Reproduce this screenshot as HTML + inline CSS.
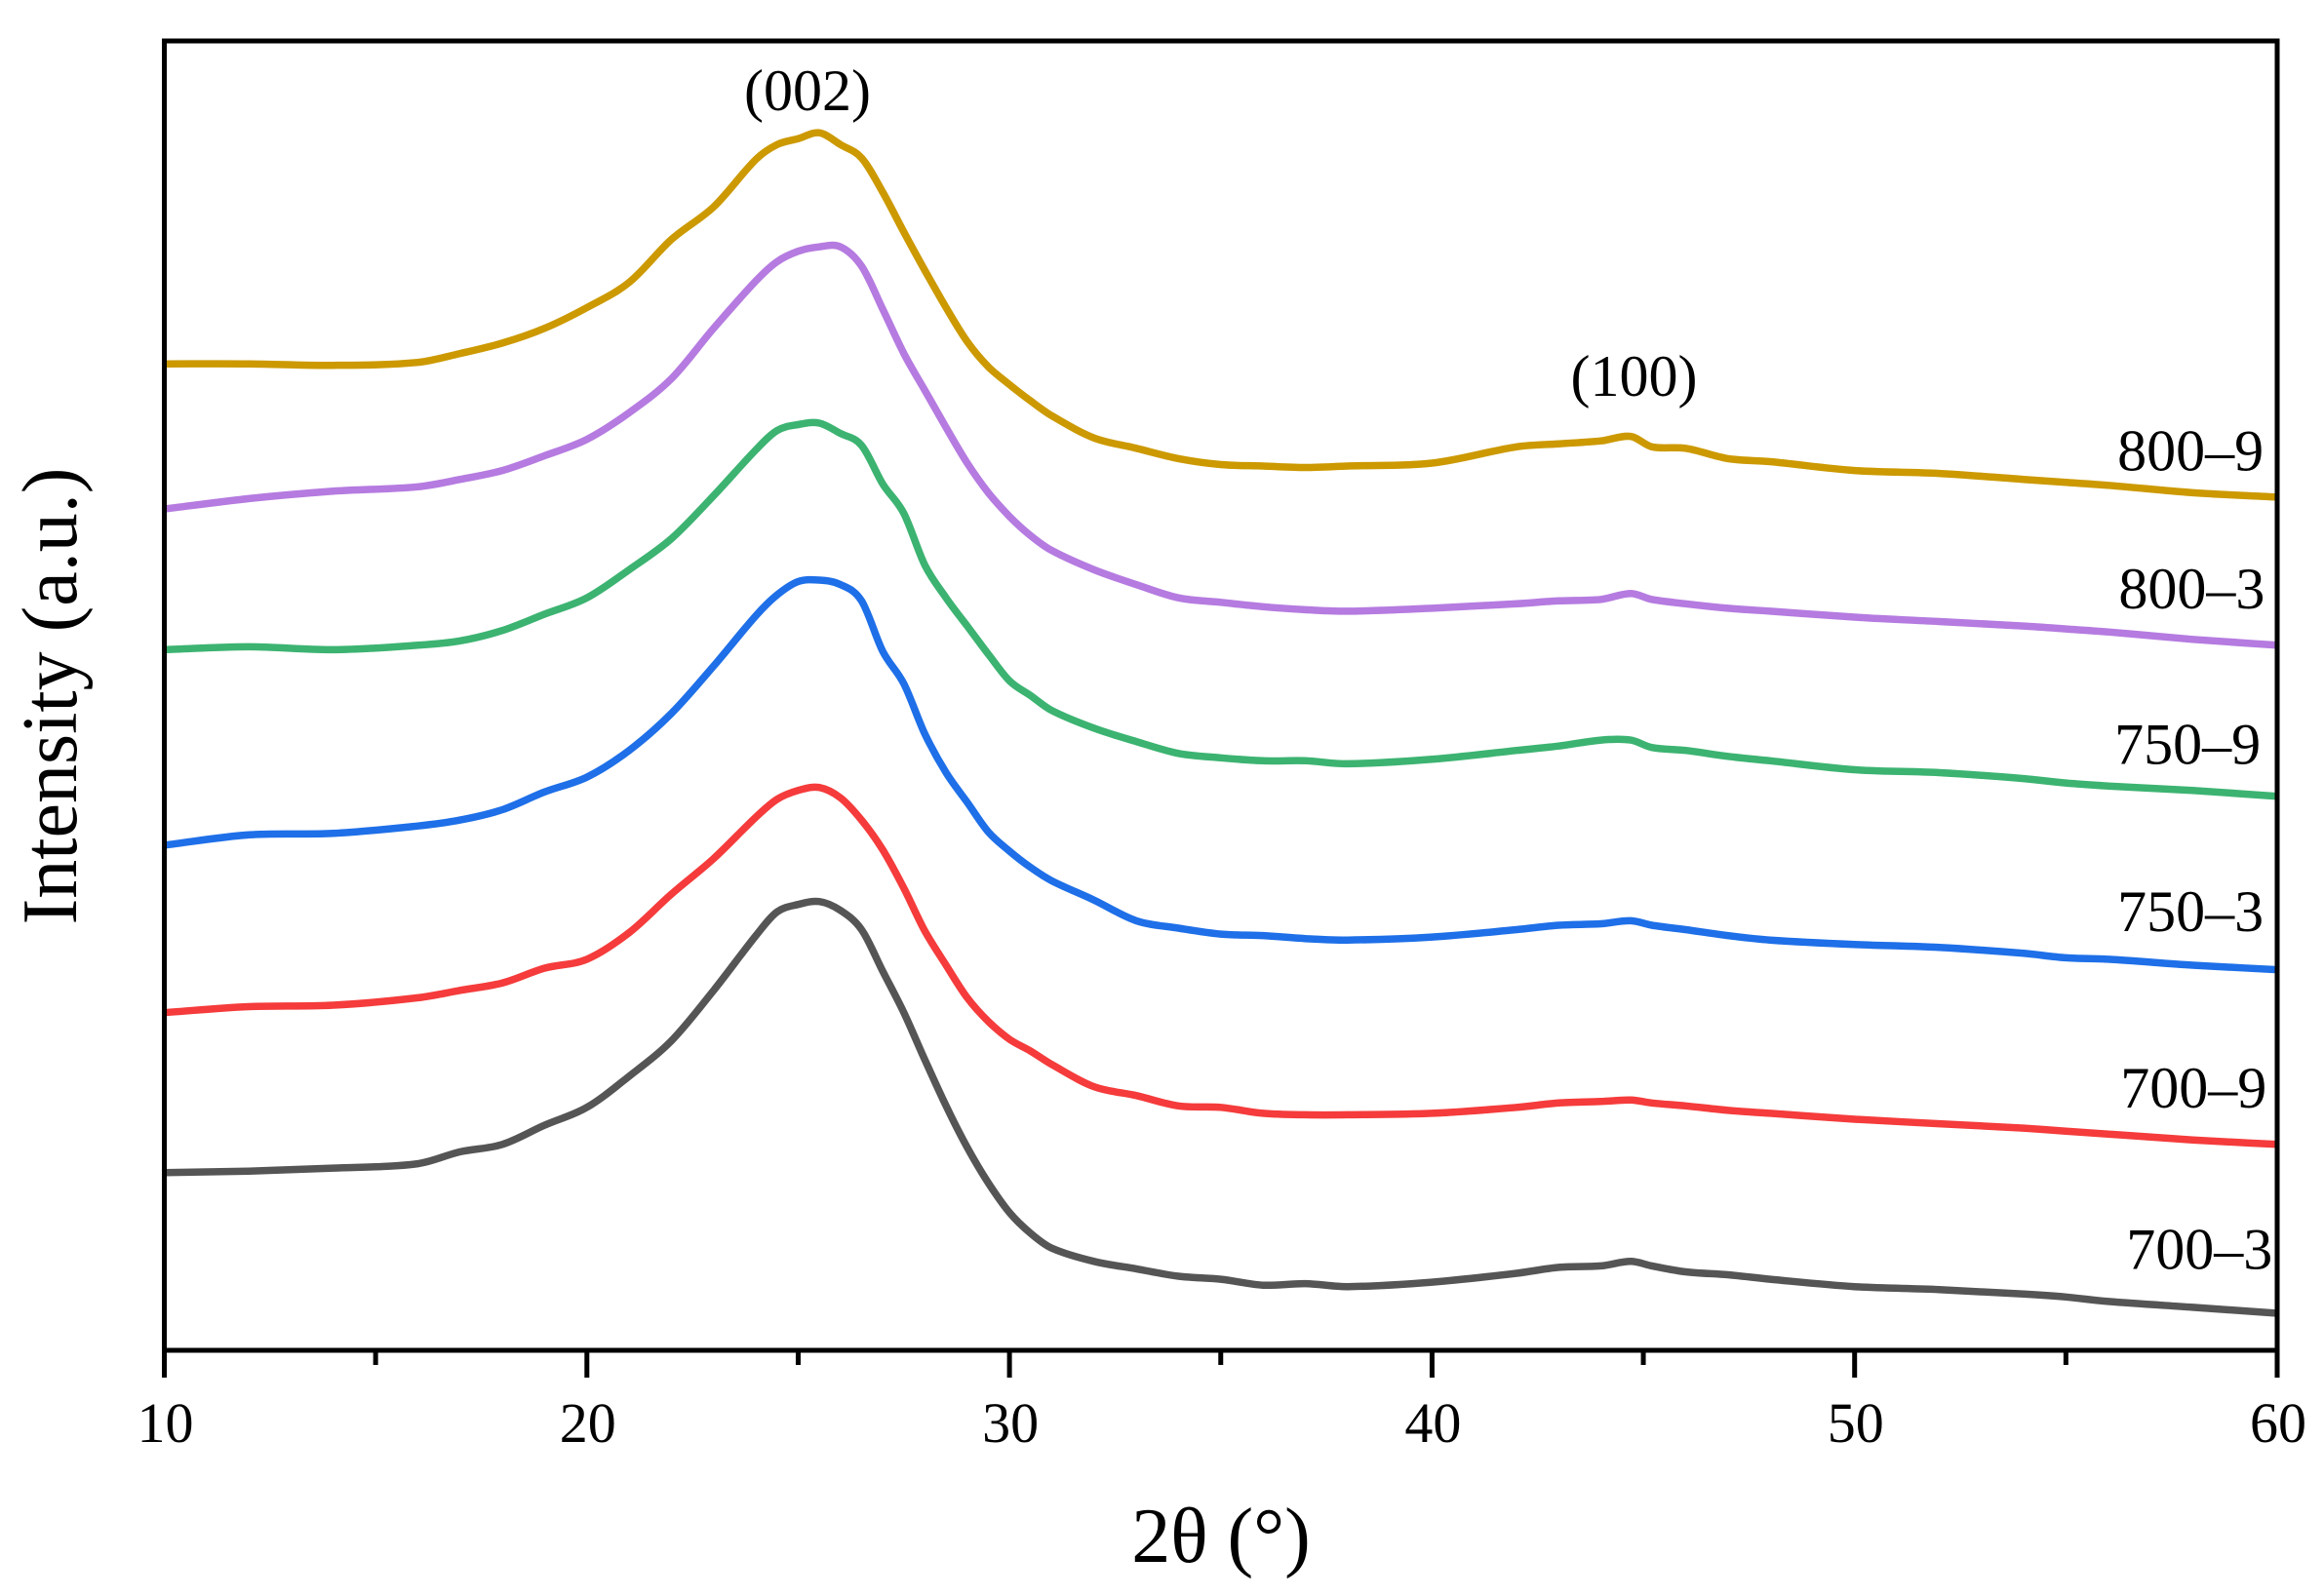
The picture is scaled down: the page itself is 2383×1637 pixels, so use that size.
<!DOCTYPE html>
<html lang="en">
<head>
<meta charset="utf-8">
<title>XRD patterns</title>
<style>
html,body{margin:0;padding:0;background:#fff;width:2383px;height:1637px;overflow:hidden}
svg{display:block}
text{font-family:"Liberation Serif","DejaVu Serif",serif;fill:#000}
</style>
</head>
<body>
<svg id="chart" xmlns="http://www.w3.org/2000/svg" width="2383" height="1637" viewBox="0 0 2383 1637">
  <rect x="0" y="0" width="2383" height="1637" fill="#fff"/>
  <g id="series"></g>
  <rect x="168.5" y="42" width="2166.5" height="1343" fill="none" stroke="#000" stroke-width="5"/>
  <g id="ticks"></g>
  <g id="labels"></g>
  <text x="828" y="113" font-size="60" text-anchor="middle">(002)</text>
  <text x="1675.5" y="406" font-size="60" text-anchor="middle">(100)</text>
  <text transform="translate(78,714) rotate(-90)" font-size="80" text-anchor="middle">Intensity (a.u.)</text>
  <text x="1252" y="1602" font-size="80" text-anchor="middle">2θ (°)</text>
</svg>
<script>
const theta = [10,12,14,16,17,18,19,20,21,22,23,24,24.5,25,25.5,26,26.5,27,27.5,28,28.5,29,29.5,30,30.5,31,32,33,34,35,36,37,38,40,42,43,44,44.7,45.2,46,47,48,50,52,54,55,56,58,60];
const intensity800_9 = [666,666,665,667,673,680,690,704,721,750,772,804,814,818,822,814,805,782,755,729,704,681,664,652,641,631,616,609,602,598,597,596,597,599,610,612,614,617,610,609,602,600,594,592,588,586,584,579,576];
const intensity800_3 = [568,575,580,583,588,594,604,615,633,656,690,722,735,742,745,745,732,703,673,648,623,599,579,563,550,540,527,517,508,505,502,500,499,501,504,506,507,511,507,504,501,499,495,492,489,487,485,480,476];
const intensity750_9 = [473,475,473,476,479,486,497,508,527,548,577,608,621,625,626,619,611,585,565,530,508,489,470,452,442,432,420,411,403,400,398,398,396,399,405,408,412,412,407,405,401,398,392,390,386,383,381,378,374];
const intensity750_3 = [341,348,349,354,358,365,377,387,405,430,462,496,510,519,520,517,506,472,450,416,390,370,350,337,326,317,304,290,285,281,280,278,277,279,284,287,288,290,287,284,280,277,274,272,268,265,264,260,257];
const intensity700_9 = [228,232,233,238,243,248,258,264,282,308,332,360,372,378,380,373,358,338,312,283,260,238,222,210,202,193,178,172,165,164,160,159,159,160,164,167,168,169,167,165,162,160,156,153,150,148,146,142,139];
const intensity700_3 = [120,121,123,126,134,139,152,164,185,209,243,280,296,301,303,297,284,256,228,196,165,137,113,93,79,69,60,55,50,48,44,45,43,46,52,56,57,60,57,53,51,48,43,41,38,36,33,29,25];
const seriesNames = ["800–9","800–3","750–9","750–3","700–9","700–3"];
const seriesColors = ["#cc9900","#b57be0","#3cb371","#1e6fe8","#f53b3b","#555555"];
const majorTicks = [10,20,30,40,50,60];
const minorTicks = [15,25,35,45,55];
const labelRightDeg = [59.68,59.71,59.61,59.68,59.75,59.89];
const labelIntensity = [594,501,396,283,164,55];

const NS = "http://www.w3.org/2000/svg";
const X0 = 168.5, X1 = 2335, Y0 = 1385, Y1 = 42;
const xMin = 10, xMax = 60, yMin = 0, yMax = 884;
function xScale(v){ return X0 + (v - xMin) / (xMax - xMin) * (X1 - X0); }
function yScale(v){ return Y0 - (v - yMin) / (yMax - yMin) * (Y0 - Y1); }

function smoothPath(values){
  const pts = values.map(function(v, j){ return [xScale(theta[j]), yScale(v)]; });
  let d = "M" + pts[0][0].toFixed(1) + " " + pts[0][1].toFixed(1);
  for (let i = 0; i < pts.length - 1; i++) {
    const p0 = pts[Math.max(i - 1, 0)], p1 = pts[i], p2 = pts[i + 1], p3 = pts[Math.min(i + 2, pts.length - 1)];
    const h = p2[0] - p1[0];
    const m1 = (p2[1] - p0[1]) / (p2[0] - p0[0]);
    const m2 = (p3[1] - p1[1]) / (p3[0] - p1[0]);
    d += "C" + (p1[0] + h / 3).toFixed(1) + " " + (p1[1] + m1 * h / 3).toFixed(1) + " " +
         (p2[0] - h / 3).toFixed(1) + " " + (p2[1] - m2 * h / 3).toFixed(1) + " " +
         p2[0].toFixed(1) + " " + p2[1].toFixed(1);
  }
  return d;
}

const allSeries = [intensity800_9, intensity800_3, intensity750_9, intensity750_3, intensity700_9, intensity700_3];
const seriesGroup = document.getElementById("series");
const tickGroup = document.getElementById("ticks");
const labelGroup = document.getElementById("labels");

allSeries.forEach(function(values, i){
  const line = document.createElementNS(NS, "path");
  
  
  line.setAttribute("d", smoothPath(values));
  line.setAttribute("fill", "none");
  line.setAttribute("stroke", seriesColors[i]);
  line.setAttribute("stroke-width", "7.5");
  line.setAttribute("stroke-linejoin", "round");
  seriesGroup.appendChild(line);

  const label = document.createElementNS(NS, "text");
  
  
  label.setAttribute("x", xScale(labelRightDeg[i]).toFixed(1));
  label.setAttribute("y", yScale(labelIntensity[i]).toFixed(1));
  label.setAttribute("font-size", "60");
  label.setAttribute("text-anchor", "end");
  label.textContent = seriesNames[i];
  labelGroup.appendChild(label);
});

majorTicks.forEach(function(t){
  const tick = document.createElementNS(NS, "line");
  
  
  tick.setAttribute("x1", xScale(t));
  tick.setAttribute("x2", xScale(t));
  tick.setAttribute("y1", Y0);
  tick.setAttribute("y2", Y0 + 28);
  tick.setAttribute("stroke", "#000");
  tick.setAttribute("stroke-width", "5");
  tickGroup.appendChild(tick);

  const label = document.createElementNS(NS, "text");
  
  
  label.setAttribute("x", xScale(t) + 1);
  label.setAttribute("y", Y0 + 94);
  label.setAttribute("font-size", "58");
  label.setAttribute("text-anchor", "middle");
  label.textContent = String(t);
  tickGroup.appendChild(label);
});

minorTicks.forEach(function(t){
  const tick = document.createElementNS(NS, "line");
  
  
  tick.setAttribute("x1", xScale(t));
  tick.setAttribute("x2", xScale(t));
  tick.setAttribute("y1", Y0);
  tick.setAttribute("y2", Y0 + 15);
  tick.setAttribute("stroke", "#000");
  tick.setAttribute("stroke-width", "5");
  tickGroup.appendChild(tick);
});
</script>
</body>
</html>
